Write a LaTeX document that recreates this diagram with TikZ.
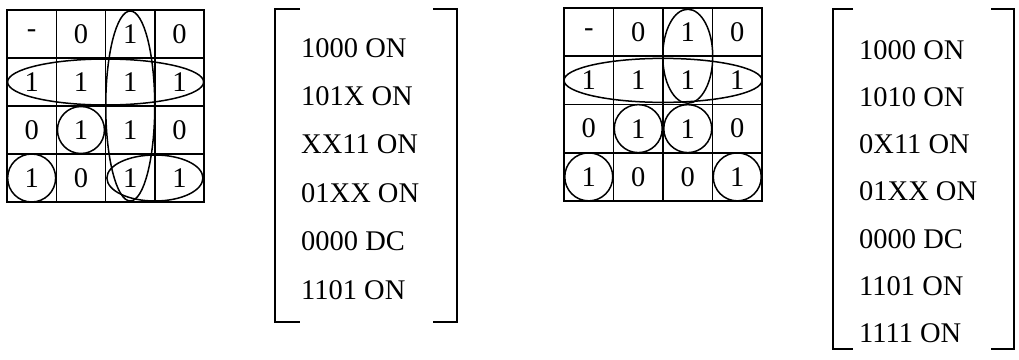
\documentclass[tikz,border=0pt]{standalone}
\usepackage{fontspec}
\setmainfont{Liberation Serif}
\usetikzlibrary{positioning,calc}

\begin{document}
\begin{tikzpicture}[
  x=1pt,y=-1pt,
  kcell/.style={draw,line width=1.6pt,minimum width=49.3pt,minimum height=48pt,inner sep=0pt,font=\fontsize{28.5}{32}\selectfont},
  grp/.style={line width=1.5pt},
  entry/.style={anchor=base west,inner sep=0pt,font=\fontsize{28.5}{32}\selectfont},
  brk/.style={line width=1.7pt}
]
\useasboundingbox (0,0) rectangle (1019,359);

% LEFT: first map and its cover
\foreach \row [count=\r] in {{-,0,1,0},{1,1,1,1},{0,1,1,0},{1,0,1,1}}
  \foreach \v [count=\c] in \row
    \node[kcell] (L\r\c) at ({7+49.3*(\c-0.5)},{10+48*(\r-0.5)}) {\v};
\draw[grp] ($(L13)!.5!(L43)$) ellipse [x radius=24.5pt,y radius=95pt];
\draw[grp] ($(L21)!.5!(L24)$) ellipse [x radius=98pt,y radius=23pt];
\draw[grp] (L32) circle (23.5pt);
\draw[grp] (L41) circle (24pt);
\draw[grp] ($(L43)!.5!(L44)$) ellipse [x radius=48pt,y radius=23pt];

\draw[brk] (300,9) -- (275,9) -- (275,322) -- (300,322);
\draw[brk] (433,9) -- (457,9) -- (457,322) -- (433,322);
\foreach \t [count=\i] in {1000 ON,101X ON,XX11 ON,01XX ON,0000 DC,1101 ON}
  \node[entry] (a\i) at (301,{57+48.4*(\i-1)}) {\t};

% RIGHT: second map and its cover
\foreach \row [count=\r] in {{-,0,1,0},{1,1,1,1},{0,1,1,0},{1,0,0,1}}
  \foreach \v [count=\c] in \row
    \node[kcell,minimum width=49.5pt,minimum height=48.25pt] (R\r\c) at ({564+49.5*(\c-0.5)},{8+48.25*(\r-0.5)}) {\v};
\draw[grp] ($(R13)!.5!(R23)$) ellipse [x radius=25pt,y radius=47pt];
\draw[grp] ($(R21)!.5!(R24)$) ellipse [x radius=99pt,y radius=22pt];
\draw[grp] (R32) circle (24pt);
\draw[grp] (R33) circle (24pt);
\draw[grp] (R41) circle (24pt);
\draw[grp] (R44) circle (24pt);

\draw[brk] (853,9) -- (833,9) -- (833,349) -- (853,349);
\draw[brk] (991,9) -- (1014,9) -- (1014,349) -- (991,349);
\foreach \t [count=\i] in {1000 ON,1010 ON,0X11 ON,01XX ON,0000 DC,1101 ON,1111 ON}
  \node[entry] (b\i) at (859,{59+47.3*(\i-1)}) {\t};
\end{tikzpicture}
\end{document}
